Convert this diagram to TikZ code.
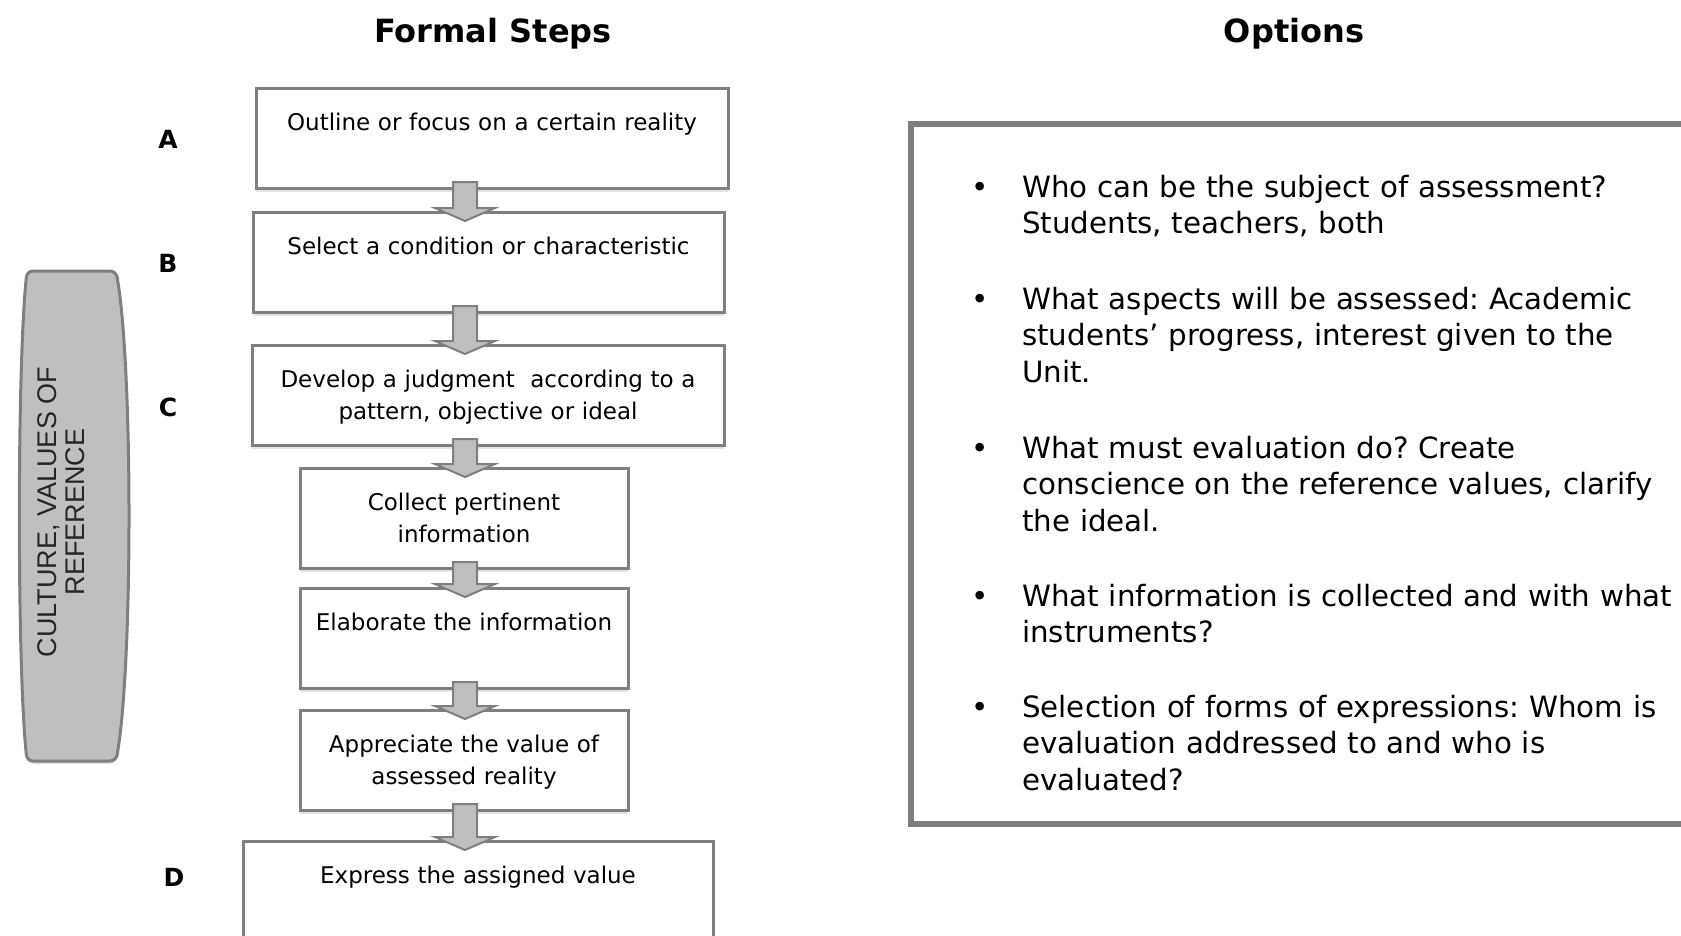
\documentclass[tikz,border=0pt]{standalone}
\usepackage{fontspec}
\setmainfont{DejaVu Sans}
\newfontfamily\arialfont{Liberation Sans}
\usetikzlibrary{calc, shadows}
\frenchspacing

\definecolor{framegray}{RGB}{127,127,127}
\definecolor{fillgray}{RGB}{191,191,191}

\tikzset{
  stepbox/.style={draw=framegray, line width=3pt, fill=white, anchor=north,
    text width=#1, align=center, inner xsep=0pt, inner ysep=0pt,
    text height=42pt, text depth=58pt,
    font=\fontsize{23}{31.5}\selectfont,
    drop shadow={shadow xshift=0pt, shadow yshift=-3pt, fill=black!22}},
  steplabel/.style={font=\bfseries\fontsize{25}{30}\selectfont},
  coltitle/.style={anchor=base, font=\bfseries\fontsize{32}{38}\selectfont},
  blockarrow/.style={draw=framegray, line width=2pt, fill=fillgray, line join=miter},
  optitem/.style={anchor=base west, text width=680pt, align=left, inner sep=0pt,
    font=\fontsize{29.3}{36.5}\selectfont},
  bulletmark/.style={anchor=base, inner sep=0pt, font=\fontsize{29.3}{36.5}\selectfont}
}

\begin{document}
\begin{tikzpicture}[x=1pt, y=-1pt]
  \useasboundingbox (0,0) rectangle (1681,935);

  \node[coltitle] (formal) at (493,42) {Formal Steps};
  \node[coltitle] (options) at (1294,42) {Options};

  \draw[draw=framegray, line width=3pt, fill=fillgray, rounded corners=6pt,
    drop shadow={shadow xshift=0pt, shadow yshift=-3pt, fill=black!22}]
    (72,271) -- (116,271) .. controls (133,365) and (133,667) .. (116,761)
    -- (27,761) .. controls (17,667) and (17,365) .. (27,271) -- cycle;
  \node[rotate=90, align=center, text=black!85,
    font=\arialfont\fontsize{27}{28.5}\selectfont] (culture) at (61,512)
    {CULTURE, VALUES OF\\REFERENCE};

  \node[stepbox=472pt] (stepA) at (492,87) {Outline or focus on a certain reality};
  \node[stepbox=471pt] (stepB) at (488.5,211) {Select a condition or characteristic};
  \node[stepbox=472pt] (stepC) at (488,344) {Develop a judgment\ \ according to a\\pattern, objective or ideal};
  \node[stepbox=328pt] (collect) at (464,467) {Collect pertinent\\information};
  \node[stepbox=328pt] (elaborate) at (464,587) {Elaborate the information};
  \node[stepbox=328pt] (appreciate) at (464,709) {Appreciate the value of\\assessed reality};
  \node[stepbox=470pt] (express) at (478,840) {Express the assigned value};

  \node[steplabel] (labA) at (168,139) {A};
  \node[steplabel] (labB) at (168,263) {B};
  \node[steplabel] (labC) at (168,407) {C};
  \node[steplabel] (labD) at (174,877) {D};

  \coordinate (axis) at (465,0);
  \foreach \u/\l in {stepA/stepB, stepB/stepC, stepC/collect, collect/elaborate,
                     elaborate/appreciate, appreciate/express} {
    \path ($(\u.south -| axis)+(0,-8)$) coordinate (s)
          ($(\l.north -| axis)+(0,10)$) coordinate (t);
    \draw[blockarrow] ($(s)+(-12,0)$) -- ($(t)+(-12,-13)$) -- ($(t)+(-30,-13)$)
      -- (t) -- ($(t)+(30,-13)$) -- ($(t)+(12,-13)$) -- ($(s)+(12,0)$) -- cycle;
  }

  \node[draw=framegray, line width=6pt, anchor=north west, inner sep=0pt,
    minimum width=800pt, minimum height=700pt] (optframe) at (908,121) {};

  \node[optitem] (opt1) at (1022,197) {Who can be the subject of assessment?\\Students, teachers, both};
  \node[optitem] (opt2) at (1022,309) {What aspects will be assessed: Academic\\students’ progress, interest given to the\\Unit.};
  \node[optitem] (opt3) at (1022,458) {What must evaluation do? Create\\conscience on the reference values, clarify\\the ideal.};
  \node[optitem] (opt4) at (1022,606) {What information is collected and with what\\instruments?};
  \node[optitem] (opt5) at (1022,717) {Selection of forms of expressions: Whom is\\evaluation addressed to and who is\\evaluated?};

  \coordinate (bulletx) at (980,0);
  \foreach \i in {1,...,5}
    \node[bulletmark] (bul\i) at (opt\i.base -| bulletx) {\textbullet};
\end{tikzpicture}
\end{document}
